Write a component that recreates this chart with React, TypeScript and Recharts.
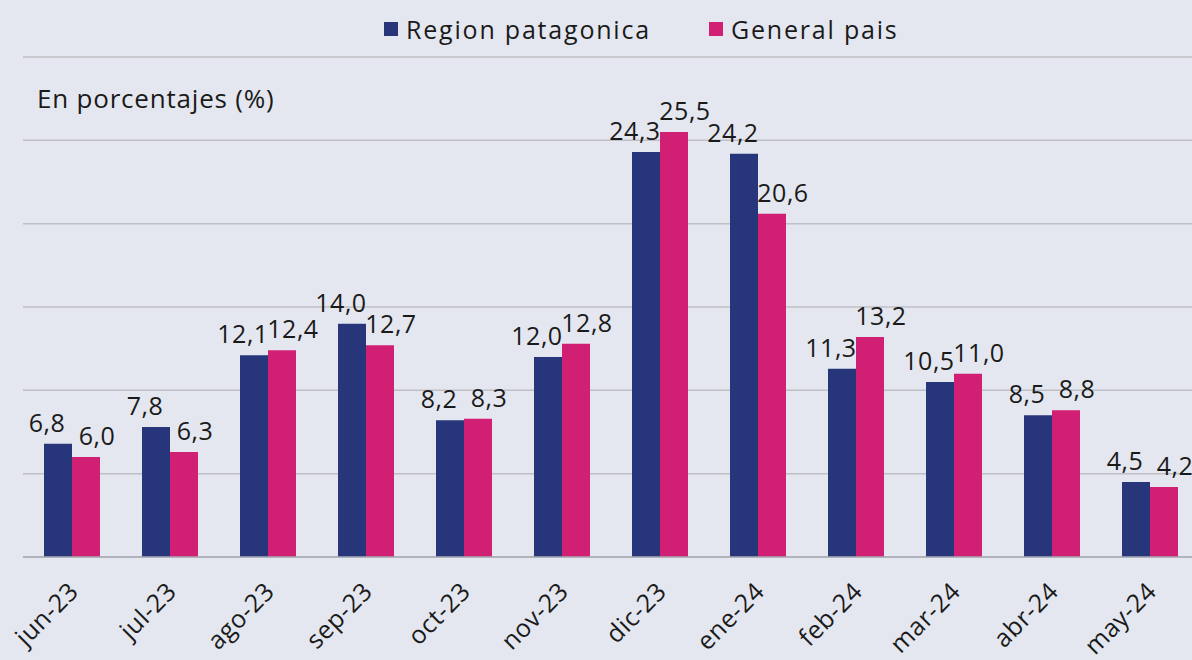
import React from 'react';
import {
  BarChart,
  Bar,
  XAxis,
  YAxis,
  CartesianGrid,
  LabelList,
} from 'recharts';

const months = ['jun-23', 'jul-23', 'ago-23', 'sep-23', 'oct-23', 'nov-23', 'dic-23', 'ene-24', 'feb-24', 'mar-24', 'abr-24', 'may-24'];
const regionPatagonica = [6.8, 7.8, 12.1, 14.0, 8.2, 12.0, 24.3, 24.2, 11.3, 10.5, 8.5, 4.5];
const generalPais = [6.0, 6.3, 12.4, 12.7, 8.3, 12.8, 25.5, 20.6, 13.2, 11.0, 8.8, 4.2];
const yTicks = [0, 5, 10, 15, 20, 25, 30];

const BLUE = '#27367a';
const PINK = '#d11f74';
const BG = '#e4e7ef';
const TEXT = '#1a1a1a';
const FONT = '"Open Sans", "DejaVu Sans", sans-serif';

const data = months.map((m, i) => ({
  month: m,
  region: regionPatagonica[i],
  general: generalPais[i],
}));

const fmt = (v: number) => v.toFixed(1).replace('.', ',');

const makeLabel = (dx: number) => (props: any) => {
  const { x, y, width, value } = props;
  return (
    <text
      x={x + width / 2 + dx}
      y={y - 12}
      textAnchor="middle"
      fontSize={25}
      fill={TEXT}
      fontFamily={FONT}
      letterSpacing={0.5}
    >
      {fmt(value as number)}
    </text>
  );
};

const MonthTick = (props: any) => {
  const { x, y, payload } = props;
  return (
    <g transform={`translate(${x + 8},${y + 28})`}>
      <text
        textAnchor="end"
        transform="rotate(-45)"
        fontSize={25}
        fill={TEXT}
        fontFamily={FONT}
        letterSpacing={0.5}
      >
        {payload.value}
      </text>
    </g>
  );
};

const legendItem = (color: string, label: string, left: number) => (
  <div
    style={{
      position: 'absolute',
      left,
      top: 12,
      display: 'flex',
      alignItems: 'center',
      fontFamily: FONT,
      fontSize: 25,
      letterSpacing: 1.8,
      color: TEXT,
      whiteSpace: 'nowrap',
    }}
  >
    <span style={{ width: 14, height: 14, background: color, display: 'inline-block', marginRight: 8 }} />
    {label}
  </div>
);

export default function App() {
  return (
    <div
      style={{
        position: 'fixed',
        left: 0,
        top: 0,
        width: 1192,
        height: 660,
        overflow: 'hidden',
        background: BG,
      }}
    >
      {legendItem(BLUE, 'Region patagonica', 384)}
      {legendItem(PINK, 'General pais', 709)}
      <div
        style={{
          position: 'absolute',
          left: 37,
          top: 80,
          fontFamily: FONT,
          fontSize: 26,
          letterSpacing: 0.8,
          color: TEXT,
          whiteSpace: 'nowrap',
        }}
      >
        En porcentajes (%)
      </div>
      <BarChart
        width={1210}
        height={660}
        data={data}
        margin={{ top: 57, right: 11, left: 23, bottom: 0 }}
        barCategoryGap={21}
        barGap={0}
      >
        <CartesianGrid vertical={false} stroke="#bfc0c6" strokeWidth={1.5} />
        <XAxis
          dataKey="month"
          height={103}
          tick={<MonthTick />}
          tickLine={false}
          axisLine={{ stroke: '#a9abb3', strokeWidth: 1.5 }}
          interval={0}
        />
        <YAxis hide domain={[0, 30]} ticks={yTicks} />
        <Bar dataKey="region" name="Region patagonica" fill={BLUE} isAnimationActive={false}>
          <LabelList dataKey="region" content={makeLabel(-11)} />
        </Bar>
        <Bar dataKey="general" name="General pais" fill={PINK} isAnimationActive={false}>
          <LabelList dataKey="general" content={makeLabel(11)} />
        </Bar>
      </BarChart>
    </div>
  );
}
